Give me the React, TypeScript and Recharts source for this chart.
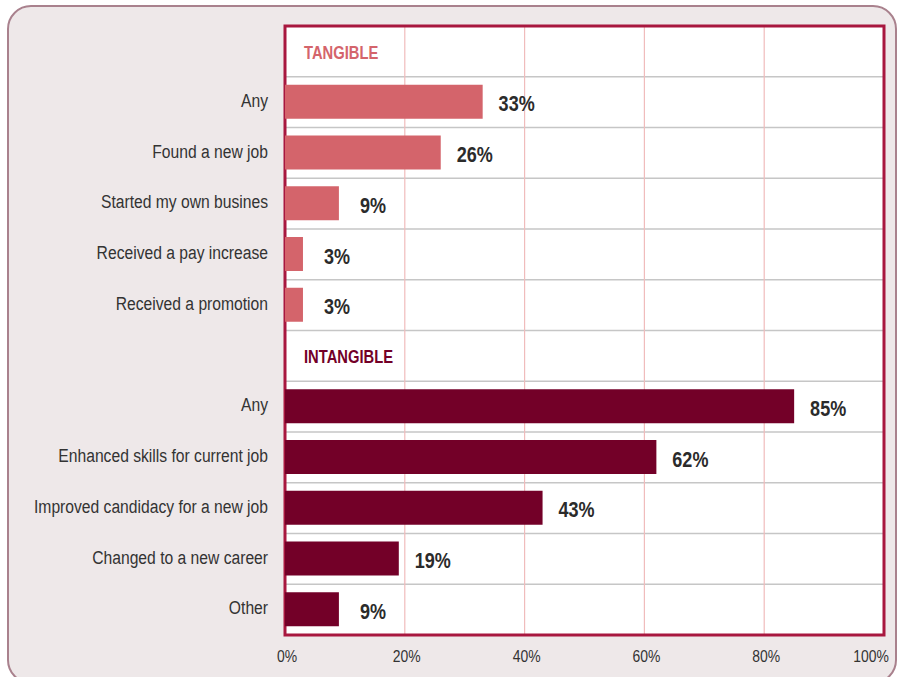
import React from "react";
import {
  BarChart,
  Bar,
  XAxis,
  YAxis,
  CartesianGrid,
  Cell,
  LabelList,
  ReferenceArea,
} from "recharts";

const FONT = "'Liberation Sans', Arial, Helvetica, sans-serif";
const NARROW = 0.82;
const LABEL_NARROW = 0.87;

const groupHeaders = ["TANGIBLE", "INTANGIBLE"];
const tangibleLabels = [
  "Any",
  "Found a new job",
  "Started my own busines",
  "Received a pay increase",
  "Received a promotion",
];
const tangibleValues = [33, 26, 9, 3, 3];
const intangibleLabels = [
  "Any",
  "Enhanced skills for current job",
  "Improved candidacy for a new job",
  "Changed to a new career",
  "Other",
];
const intangibleValues = [85, 62, 43, 19, 9];
const xTicks = [0, 20, 40, 60, 80, 100];

const TANGIBLE_COLOR = "#d4646b";
const INTANGIBLE_COLOR = "#730028";

type Row = { id: string; label: string; value: number | null; header: boolean; color: string };

const rows: Row[] = [
  { id: "h0", label: groupHeaders[0], value: null, header: true, color: TANGIBLE_COLOR },
  ...tangibleLabels.map((l, i) => ({
    id: `t${i}`,
    label: l,
    value: tangibleValues[i],
    header: false,
    color: TANGIBLE_COLOR,
  })),
  { id: "h1", label: groupHeaders[1], value: null, header: true, color: INTANGIBLE_COLOR },
  ...intangibleLabels.map((l, i) => ({
    id: `i${i}`,
    label: l,
    value: intangibleValues[i],
    header: false,
    color: INTANGIBLE_COLOR,
  })),
];

// row boundaries (between categories) for the gray separators
const rowBoundaryGenerator = ({ offset }: any) => {
  const out: number[] = [];
  const step = offset.height / rows.length;
  for (let i = 1; i < rows.length; i++) out.push(offset.top + i * step);
  return out;
};

const NarrowText = ({ x, y, children, scale = NARROW, ...rest }: any) => (
  <g transform={`translate(${x},${y}) scale(${scale},1)`}>
    <text x={0} y={0} fontFamily={FONT} {...rest}>
      {children}
    </text>
  </g>
);

const YTick = (props: any) => {
  const { x, y, payload } = props;
  const row = rows.find((r) => r.id === payload.value);
  if (!row) return null;
  if (row.header) {
    return (
      <NarrowText
        x={x + 36}
        y={y + 1}
        textAnchor="start"
        dominantBaseline="central"
        fontWeight="bold"
        fontSize={18}
        fill={row.color}
      >
        {row.label}
      </NarrowText>
    );
  }
  return (
    <NarrowText
      x={x}
      y={y - 1}
      scale={LABEL_NARROW}
      textAnchor="end"
      dominantBaseline="central"
      fontSize={18}
      fill="#333333"
    >
      {row.label}
    </NarrowText>
  );
};

const XTick = (props: any) => {
  const { x, y, payload, index } = props;
  const last = index === xTicks.length - 1;
  return (
    <NarrowText
      x={last ? x + 5 : x + 2}
      y={y}
      dy="0.71em"
      textAnchor={last ? "end" : "middle"}
      fontSize={17}
      fill="#333333"
    >
      {`${payload.value}%`}
    </NarrowText>
  );
};

const ValueLabel = (props: any) => {
  const { x, y, width, height, value } = props;
  if (value == null) return null;
  return (
    <NarrowText
      x={x + width + 34}
      y={y + height / 2 + 2}
      textAnchor="middle"
      dominantBaseline="central"
      fontWeight="bold"
      fontSize={22}
      fill="#2b2b2b"
    >
      {`${value}%`}
    </NarrowText>
  );
};

export default function App() {
  return (
    <div
      style={{
        position: "fixed",
        left: 0,
        top: 0,
        width: 899,
        height: 677,
        background: "#ffffff",
        overflow: "hidden",
      }}
    >
      <div
        style={{
          position: "absolute",
          left: 7,
          top: 5,
          width: 886,
          height: 675,
          borderRadius: 24,
          border: "2px solid #a9818d",
          background: "#eee8e9",
        }}
      />
      <div style={{ position: "absolute", left: 0, top: 0 }}>
        <BarChart
          width={899}
          height={677}
          data={rows}
          layout="vertical"
          margin={{ top: 26, right: 15, bottom: 12, left: 0 }}
          barSize={34}
        >
          <YAxis
            type="category"
            dataKey="id"
            width={285}
            axisLine={false}
            tickLine={false}
            tickSize={0}
            tickMargin={17}
            tick={<YTick />}
            interval={0}
          />
          <XAxis
            type="number"
            domain={[0, 100]}
            ticks={xTicks}
            axisLine={false}
            tickLine={false}
            tickSize={0}
            tickMargin={15}
            height={30}
            tick={<XTick />}
            interval={0}
          />
          <CartesianGrid
            horizontal
            vertical={false}
            horizontalCoordinatesGenerator={rowBoundaryGenerator}
            stroke="#c6c6c6"
            strokeWidth={1.5}
            fill="#ffffff"
          />
          <CartesianGrid horizontal={false} vertical stroke="#f0bcbc" strokeWidth={1.2} />
          <Bar dataKey="value" isAnimationActive={false}>
            {rows.map((r) => (
              <Cell key={r.id} fill={r.color} />
            ))}
            <LabelList dataKey="value" content={<ValueLabel />} />
          </Bar>
          <ReferenceArea
            x1={0}
            x2={100}
            fill="none"
            stroke="#a8173f"
            strokeWidth={3}
            ifOverflow="visible"
          />
        </BarChart>
      </div>
    </div>
  );
}
